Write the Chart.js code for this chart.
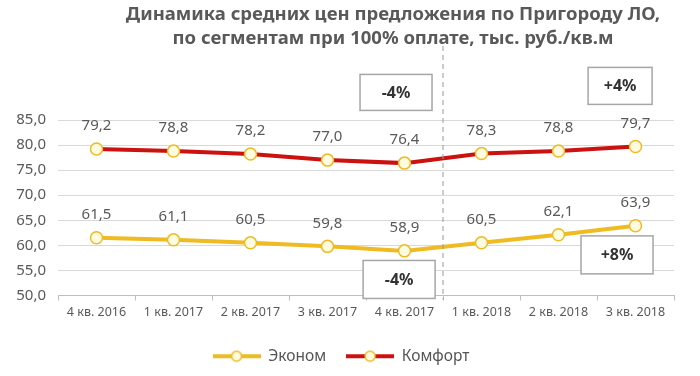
<!DOCTYPE html>
<html>
<head>
<meta charset="utf-8">
<script src="https://cdn.jsdelivr.net/npm/chart.js@4.4.1/dist/chart.umd.min.js"></script>
<style>
  html, body { margin: 0; padding: 0; background: #fff; }
  #wrap { width: 700px; height: 376px; position: relative; }
</style>
</head>
<body>
<div id="wrap"><canvas id="priceChart"></canvas></div>
<script>
// quarters on the x axis
const quarters = ['4 кв. 2016', '1 кв. 2017', '2 кв. 2017', '3 кв. 2017', '4 кв. 2017', '1 кв. 2018', '2 кв. 2018', '3 кв. 2018'];
// thousand rub per sq.m
const economy = [61.5, 61.1, 60.5, 59.8, 58.9, 60.5, 62.1, 63.9];
const comfort = [79.2, 78.8, 78.2, 77.0, 76.4, 78.3, 78.8, 79.7];
const yTicks = [50, 55, 60, 65, 70, 75, 80, 85];
const titleLines = ['Динамика средних цен предложения по Пригороду ЛО,', 'по сегментам при 100% оплате, тыс. руб./кв.м'];

const FONT = "'Noto Sans', sans-serif";
const fmt = v => v.toFixed(1).replace('.', ',');

// legend swatch: line with a ring in the middle
function swatch(color) {
  const c = document.createElement('canvas');
  c.width = 48; c.height = 14;
  const g = c.getContext('2d');
  g.strokeStyle = color; g.lineWidth = 4;
  g.beginPath(); g.moveTo(0, 7); g.lineTo(48, 7); g.stroke();
  g.fillStyle = '#fffbe0'; g.strokeStyle = '#eebb22'; g.lineWidth = 1.5;
  g.beginPath(); g.arc(24, 7, 5, 0, Math.PI * 2); g.fill(); g.stroke();
  return c;
}

// title (off-centre in the original), value labels, divider and % boxes
const extras = {
  id: 'extras',
  afterDraw(chart) {
    const ctx = chart.ctx, xs = chart.scales.x, ys = chart.scales.y, area = chart.chartArea;
    ctx.save();
    ctx.textAlign = 'center';
    ctx.textBaseline = 'middle';

    ctx.font = 'bold 18.5px ' + FONT;
    ctx.fillStyle = '#595959';
    titleLines.forEach((t, i) => ctx.fillText(t, 393, 15 + i * 24));

    ctx.font = '15px ' + FONT;
    ctx.fillStyle = '#595959';
    chart.data.datasets.forEach((ds, i) => {
      chart.getDatasetMeta(i).data.forEach((pt, j) => {
        ctx.fillText(fmt(ds.data[j]), pt.x, pt.y - 23);
      });
    });

    // dashed divider between 2017 and 2018
    const dx = (xs.getPixelForValue(4) + xs.getPixelForValue(5)) / 2;
    ctx.strokeStyle = '#999';
    ctx.lineWidth = 1;
    ctx.setLineDash([5, 4]);
    ctx.beginPath(); ctx.moveTo(dx, 46); ctx.lineTo(dx, area.bottom + 4); ctx.stroke();
    ctx.setLineDash([]);

    const boxes = [
      { text: '-4%', x: 3.89, y: 90.5, w: 72, h: 36 },
      { text: '-4%', x: 3.93, y: 53.2, w: 72, h: 38 },
      { text: '+4%', x: 6.8, y: 91.8, w: 64, h: 37 },
      { text: '+8%', x: 6.76, y: 58.1, w: 72, h: 38 }
    ];
    ctx.font = 'bold 16px ' + FONT;
    boxes.forEach(b => {
      const cx = xs.getPixelForValue(0) + b.x * (xs.getPixelForValue(1) - xs.getPixelForValue(0));
      const cy = ys.getPixelForValue(b.y);
      ctx.fillStyle = '#fff';
      ctx.fillRect(cx - b.w / 2, cy - b.h / 2, b.w, b.h);
      ctx.strokeStyle = '#a6a6a6';
      ctx.lineWidth = 1.5;
      ctx.strokeRect(cx - b.w / 2, cy - b.h / 2, b.w, b.h);
      ctx.fillStyle = '#333';
      ctx.fillText(b.text, cx, cy + 1);
    });
    ctx.restore();
  }
};

const ctx = document.getElementById('priceChart').getContext('2d');
new Chart(ctx, {
  type: 'line',
  data: {
    labels: quarters,
    datasets: [
      {
        label: 'Эконом',
        data: economy,
        borderColor: '#eebb22',
        borderWidth: 4,
        pointRadius: 6,
        pointBorderWidth: 1.5,
        pointBorderColor: '#eebb22',
        pointBackgroundColor: '#fffbe0',
        tension: 0
      },
      {
        label: 'Комфорт',
        data: comfort,
        borderColor: '#cc1111',
        borderWidth: 4,
        pointRadius: 6,
        pointBorderWidth: 1.5,
        pointBorderColor: '#eebb22',
        pointBackgroundColor: '#fffbe0',
        tension: 0
      }
    ]
  },
  options: {
    responsive: true,
    maintainAspectRatio: false,
    animation: false,
    layout: { padding: { left: 8, right: 26, top: 120, bottom: 2 } },
    plugins: {
      title: { display: false },
      legend: {
        position: 'bottom',
        labels: {
          usePointStyle: true,
          pointStyleWidth: 48,
          padding: 20,
          color: '#555',
          font: { family: FONT, size: 15.5 },
          generateLabels(chart) {
            return chart.data.datasets.map((ds, i) => ({
              text: ds.label,
              pointStyle: swatch(ds.borderColor),
              fontColor: '#555',
              datasetIndex: i,
              lineWidth: 0
            }));
          }
        }
      },
      tooltip: { enabled: false }
    },
    scales: {
      x: {
        offset: true,
        afterFit(scale) { scale.height += 5; },
        grid: { display: true, drawOnChartArea: false, offset: true, tickLength: 5, color: '#bfbfbf' },
        border: { color: '#bfbfbf' },
        ticks: { color: '#595959', font: { family: FONT, size: 12.5 }, maxRotation: 0, padding: 4 }
      },
      y: {
        min: 50,
        max: 85,
        afterBuildTicks(scale) { scale.ticks = yTicks.map(v => ({ value: v })); },
        afterFit(scale) { scale.width = 50; },
        grid: { color: '#d9d9d9', drawTicks: false },
        border: { display: false },
        ticks: { color: '#595959', font: { family: FONT, size: 15 }, padding: 12, callback: v => fmt(v) }
      }
    }
  },
  plugins: [extras]
});
</script>
</body>
</html>
